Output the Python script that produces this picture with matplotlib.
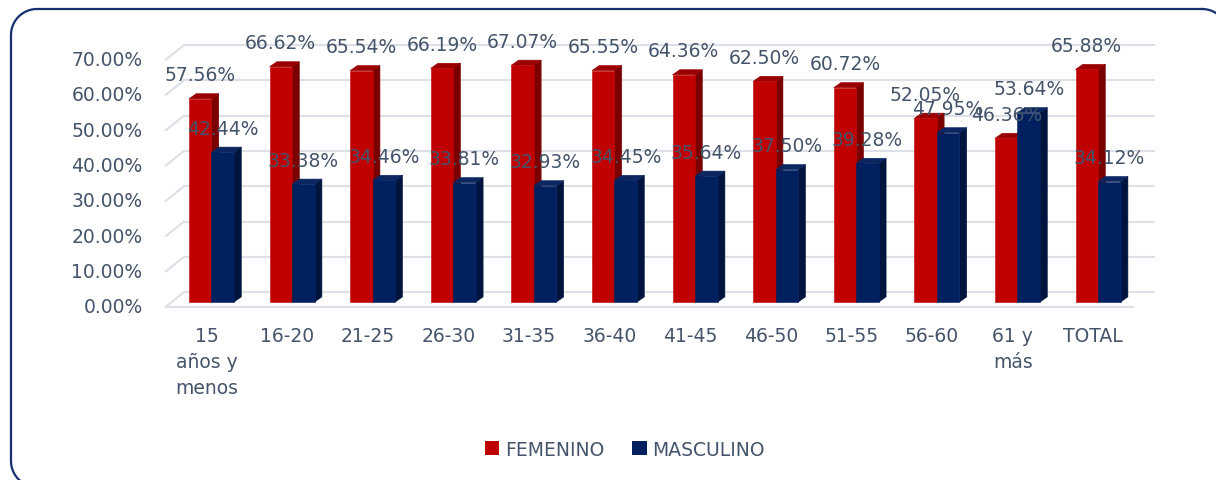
import numpy as np
import matplotlib
matplotlib.use('Agg')
import matplotlib.pyplot as plt
from matplotlib.patches import Polygon, Patch

categories = ['15\naños y\nmenos', '16-20', '21-25', '26-30', '31-35', '36-40',
              '41-45', '46-50', '51-55', '56-60', '61 y\nmás', 'TOTAL']
femenino = [57.56, 66.62, 65.54, 66.19, 67.07, 65.55, 64.36, 62.50, 60.72, 52.05, 46.36, 65.88]
masculino = [42.44, 33.38, 34.46, 33.81, 32.93, 34.45, 35.64, 37.50, 39.28, 47.95, 53.64, 34.12]
y_ticks = [0, 10, 20, 30, 40, 50, 60, 70]

TEXT = '#44546A'
GRID = '#DDE0E6'
RED = ('#C00000', '#7A0000', '#9A0000')    # front, side, top
BLUE = ('#002060', '#00143D', '#0B2660')

W = 0.28          # bar width (category units)
DX, DY = 0.09, 1.45   # bar depth offset
FRONT_X, FRONT_DY = -0.565, -1.3   # front wall
BACK_X, BACK_DY = -0.341, 2.8      # back wall
BACK_END, FRONT_END = 11.69, 11.43

fig = plt.figure(figsize=(12.16, 4.81), dpi=100)

# frame axes in pixel units (rounded border running off the right/bottom)
fax = fig.add_axes([0, 0, 1, 1])
fax.set_xlim(0, 1216)
fax.set_ylim(481, 0)
fax.axis('off')
L, T, R, B, r = 11, 10, 1228, 488, 26
parts = []
for cx, cy, a0, a1 in [(R - r, T + r, -90, 0), (R - r, B - r, 0, 90),
                       (L + r, B - r, 90, 180), (L + r, T + r, 180, 270)]:
    t = np.radians(np.linspace(a0, a1, 30))
    parts.append(np.column_stack([cx + r * np.cos(t), cy + r * np.sin(t)]))
frame = np.vstack(parts + [parts[0][:1]])
fax.plot(frame[:, 0], frame[:, 1], color='#14306E', lw=1.6, clip_on=False)

ax = fig.add_axes([0, 0, 1, 1])
ax.set_xlim(-2.624, 12.463)
ax.set_ylim(-50.42, 85.84)
ax.axis('off')

# walls / gridlines
for v in y_ticks:
    ax.plot([FRONT_X, BACK_X], [v + FRONT_DY, v + BACK_DY], color=GRID, lw=1.5, zorder=1)
    ax.plot([BACK_X, BACK_END], [v + BACK_DY, v + BACK_DY], color=GRID, lw=1.5, zorder=1)
    ax.text(FRONT_X - 0.29, v + FRONT_DY, f'{v:.2f}%', ha='right', va='center',
            fontsize=13.5, color=TEXT)
ax.plot([FRONT_X, FRONT_END], [FRONT_DY, FRONT_DY], color=GRID, lw=1.5, zorder=1)


def bar3d(left, h, cols, z):
    right = left + W
    ax.bar(left, h, width=W, align='edge', color=cols[0], edgecolor=cols[0],
           lw=0.4, zorder=z + 0.2)
    side = [(right, 0), (right + DX, DY), (right + DX, h + DY), (right, h)]
    top = [(left, h), (right, h), (right + DX, h + DY), (left + DX, h + DY)]
    ax.add_patch(Polygon(side, closed=True, facecolor=cols[1], edgecolor=cols[1],
                         lw=0.4, zorder=z))
    ax.add_patch(Polygon(top, closed=True, facecolor=cols[2], edgecolor=cols[2],
                         lw=0.4, zorder=z + 0.1))


for i, (f, m) in enumerate(zip(femenino, masculino)):
    bar3d(i - W, f, RED, 2)
    bar3d(i, m, BLUE, 3)
    ax.text(i - W / 2, f + 6.8, f'{f:.2f}%', ha='center', va='center',
            fontsize=13.5, color=TEXT, zorder=10)
    ax.text(i + W / 2, m + 6.8, f'{m:.2f}%', ha='center', va='center',
            fontsize=13.5, color=TEXT, zorder=10)
    ax.text(i - 0.06, -6.9, categories[i], ha='center', va='top',
            fontsize=13.5, color=TEXT, linespacing=1.45)

handles = [Patch(facecolor=RED[0], label='FEMENINO'),
           Patch(facecolor=BLUE[0], label='MASCULINO')]
fig.legend(handles=handles, loc='center', bbox_to_anchor=(0.514, 0.064), ncol=2,
           frameon=False, fontsize=13.5, labelcolor=TEXT, handlelength=0.75,
           handleheight=0.75, handletextpad=0.3, columnspacing=1.5)

fig.savefig('out.png', dpi=100)
